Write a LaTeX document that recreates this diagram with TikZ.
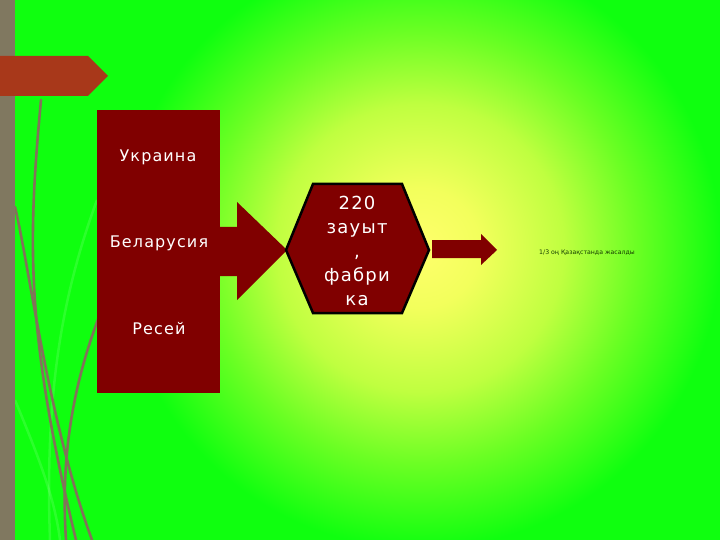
\documentclass[tikz,border=0pt]{standalone}
\usepackage{fontspec}
\newfontfamily\dv[LetterSpace=7]{DejaVu Sans}
\newfontfamily\dvn{DejaVu Sans}
\usetikzlibrary{calc}
\definecolor{bgA}{rgb}{1,1,0.42}
\definecolor{bgB}{rgb}{0.95,1,0.36}
\definecolor{bgC}{rgb}{0.75,1,0.25}
\definecolor{bgD}{rgb}{0.42,1,0.14}
\definecolor{bgE}{rgb}{0.06,1,0.06}
\definecolor{stripe}{RGB}{128,120,96}
\definecolor{banner}{RGB}{168,56,26}
\definecolor{maroon}{RGB}{128,0,0}
\definecolor{curve}{RGB}{130,115,90}
\definecolor{smalltxt}{RGB}{20,60,0}
\pgfdeclareradialshading{bgshade}{\pgfpoint{0bp}{0bp}}{color(0bp)=(bgA); color(2.5bp)=(bgB); color(6bp)=(bgC); color(9bp)=(bgD); color(12.5bp)=(bgE); color(50bp)=(bgE)}
\tikzset{
  ctext/.style={text=white, font=\dv\fontsize{16}{18}\selectfont, inner sep=0pt},
  htext/.style={text=white, font=\dv\fontsize{18}{24}\selectfont, align=center, inner sep=0pt},
  block/.style={fill=maroon, draw=none},
  curveline/.style={draw=curve, line width=2.6pt, line cap=round},
  faint/.style={draw=white, opacity=0.12, line width=2.5pt}
}
\begin{document}
\begin{tikzpicture}[x=1pt,y=-1pt]
\useasboundingbox (0,0) rectangle (720,540);
\begin{scope}
\clip (0,0) rectangle (720,540);
\shade[shading=bgshade] (420,248) circle (600);
% faint curves
\draw[faint] (15,400) .. controls (40,460) and (55,500) .. (60,540);
\draw[faint] (97,200) .. controls (60,300) and (45,400) .. (50,540);
% curves
\draw[curveline] (41,100) .. controls (28,240) and (25,330) .. (76,540);
\draw[curveline] (15,207) .. controls (30,270) and (48,420) .. (92,540);
\draw[curveline] (110,290) .. controls (75,370) and (60,450) .. (66,540);
\end{scope}
% left stripe
\fill[stripe] (0,0) rectangle (15,540);
% banner
\fill[banner] (0,56) -- (88,56) -- (108,76) -- (88,96) -- (0,96) -- cycle;
% countries box
\node[block, minimum width=123pt, minimum height=283pt, inner sep=0pt] (countries) at (158.5,251.5) {};
\node[ctext] (ukr) at (158,157) {Украина};
\node[ctext] (bel) at (159,243) {Беларусия};
\node[ctext] (res) at (159,329) {Ресей};
% big arrow
\coordinate (tip) at (287,250);
\fill[maroon] (countries.east |- 0,227) -- (237,227) -- (237,202) -- (tip) -- (237,300) -- (237,276) -- (countries.east |- 0,276) -- cycle;
% hexagon
\draw[fill=maroon, draw=black, line width=2.5pt, line join=miter] (286,250) -- (313,184) -- (402,184) -- (429,250) -- (402,313) -- (313,313) -- cycle;
\node[htext] (hex) at (357,251) {220\\зауыт\\,\\фабри\\ка};
% small arrow
\fill[maroon] (432,240) -- (481,240) -- (481,234) -- (497,250) -- (481,265) -- (481,258) -- (432,258) -- cycle;
\node[text=smalltxt, font=\dvn\fontsize{6.2}{7}\selectfont, inner sep=0pt] (note) at (587,253) {1/3 оң Қазақстанда жасалды};
\end{tikzpicture}
\end{document}
